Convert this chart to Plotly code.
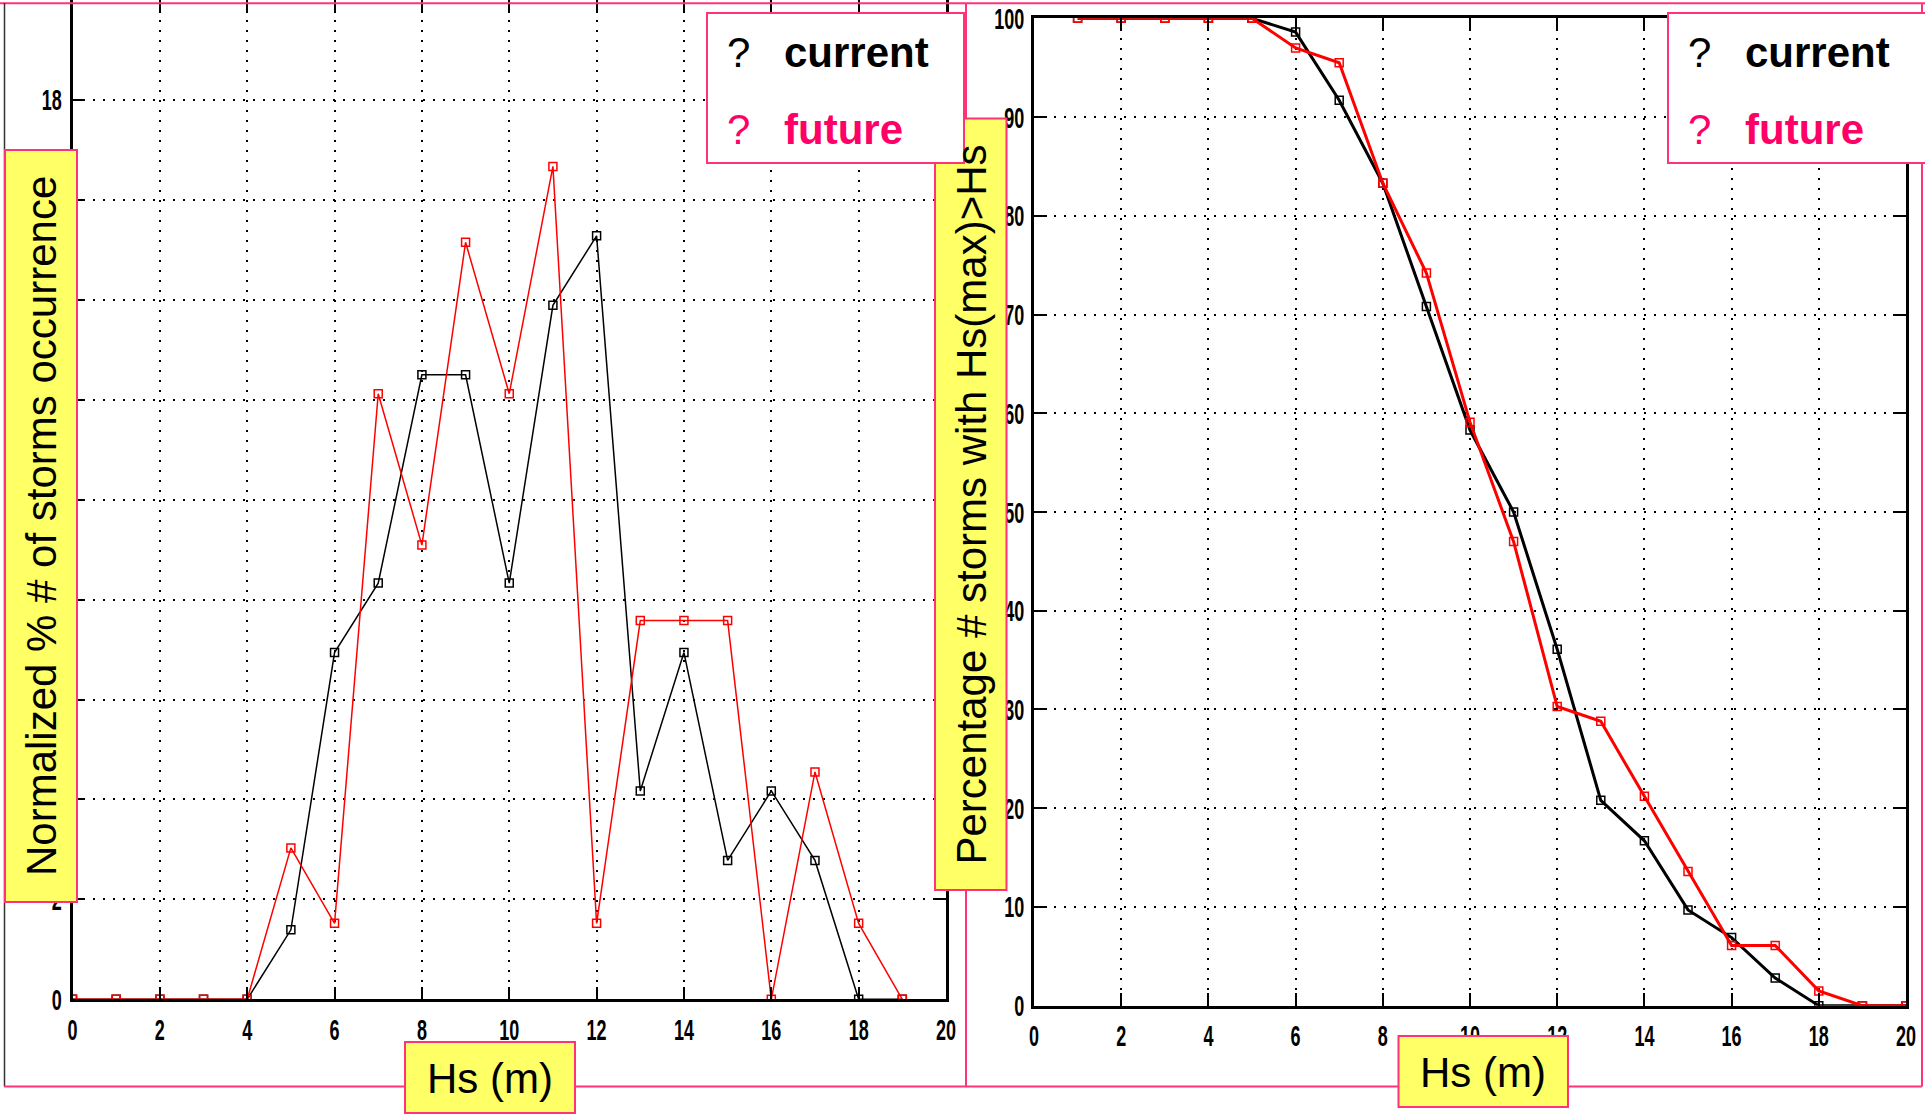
import plotly.graph_objects as go

# ---- data -------------------------------------------------------------
# Left panel: normalized occurrence (%) per Hs bin
hs_bins = list(range(0, 20))
occ_current = [0, 0, 0, 0, 0, 1.39, 6.94, 8.33, 12.50, 12.50, 8.33,
               13.89, 15.28, 4.17, 6.94, 2.78, 4.17, 2.78, 0, 0]
occ_future = [0, 0, 0, 0, 0, 3.03, 1.52, 12.12, 9.09, 15.15, 12.12,
              16.67, 1.52, 7.58, 7.58, 7.58, 0, 4.55, 1.52, 0]

# Right panel: percentage of storms whose Hs(max) exceeds Hs
hs_thresh = list(range(1, 21))
exc_current = [100, 100, 100, 100, 100, 98.6, 91.7, 83.3, 70.8, 58.3,
               50.0, 36.1, 20.8, 16.7, 9.7, 6.9, 2.8, 0, 0, 0]
exc_future = [100, 100, 100, 100, 100, 97.0, 95.5, 83.3, 74.2, 59.1,
              47.0, 30.3, 28.8, 21.2, 13.6, 6.1, 6.1, 1.5, 0, 0]

x_ticks = list(range(0, 21, 2))
y_ticks_left = list(range(0, 21, 2))
y_ticks_right = list(range(0, 101, 10))

series_names = ["current", "future"]
left_ylabel = "Normalized % # of storms occurrence"
right_ylabel = "Percentage # storms with Hs(max)>Hs"
xlabel = "Hs (m)"

# ---- styling ------------------------------------------------------------
W, H = 1925, 1117
PINK = "#FF3377"
PINK_TXT = "#FF0066"
YELLOW = "#FFFF66"
TICK_FONT = dict(family="Liberation Sans, Arial, sans-serif",
                 size=30, color="black", weight="bold")
LABEL_FONT = dict(family="Liberation Sans, Arial, sans-serif", size=42, color="black")


def px(x):
    return x / W


def py(y):
    return 1 - y / H


fig = go.Figure()

# left panel traces
fig.add_trace(go.Scatter(x=hs_bins, y=occ_current, mode="lines+markers",
                         line=dict(color="black", width=1.5),
                         marker=dict(symbol="square-open", size=8, color="black",
                                     line=dict(width=1.5)),
                         xaxis="x", yaxis="y", showlegend=False))
fig.add_trace(go.Scatter(x=hs_bins, y=occ_future, mode="lines+markers",
                         line=dict(color="red", width=1.5),
                         marker=dict(symbol="square-open", size=8, color="red",
                                     line=dict(width=1.5)),
                         xaxis="x", yaxis="y", showlegend=False))

# right panel traces
fig.add_trace(go.Scatter(x=hs_thresh, y=exc_current, mode="lines+markers",
                         line=dict(color="black", width=3),
                         marker=dict(symbol="square-open", size=8, color="black",
                                     line=dict(width=1.5)),
                         xaxis="x2", yaxis="y2", showlegend=False))
fig.add_trace(go.Scatter(x=hs_thresh, y=exc_future, mode="lines+markers",
                         line=dict(color="red", width=3),
                         marker=dict(symbol="square-open", size=8, color="red",
                                     line=dict(width=1.5)),
                         xaxis="x2", yaxis="y2", showlegend=False))

axis_common = dict(
    showline=True, linecolor="black", linewidth=2.5, mirror="ticks",
    ticks="inside", ticklen=13, tickwidth=2, tickcolor="black",
    showgrid=True, gridcolor="black", gridwidth=1.5, griddash="2px,8px",
    zeroline=False, tickfont=TICK_FONT, automargin=False,
)

fig.update_layout(
    width=W, height=H, autosize=False,
    margin=dict(l=0, r=0, t=0, b=0, pad=0, autoexpand=False),
    paper_bgcolor="white", plot_bgcolor="white",
    xaxis=dict(domain=[px(72.5), px(946)], range=[0, 20], tickvals=x_ticks,
               anchor="y", ticklabelstandoff=2, **axis_common),
    yaxis=dict(domain=[py(999.3), 1.0], range=[0, 20], tickvals=y_ticks_left,
               anchor="x", ticklabelstandoff=2, **axis_common),
    xaxis2=dict(domain=[px(1034), px(1906)], range=[0, 20], tickvals=x_ticks,
                anchor="y2", ticklabelstandoff=2, **axis_common),
    yaxis2=dict(domain=[py(1005.7), py(18.3)], range=[0, 100], tickvals=y_ticks_right,
                anchor="x2", ticklabelstandoff=1, **axis_common),
)

shapes = []


def line(x0, y0, x1, y1, color=PINK, width=2):
    shapes.append(dict(type="line", xref="paper", yref="paper",
                       x0=px(x0), y0=py(y0), x1=px(x1), y1=py(y1),
                       line=dict(color=color, width=width), layer="above"))


def box(x0, y0, x1, y1, fill, color=PINK, width=2):
    shapes.append(dict(type="rect", xref="paper", yref="paper",
                       x0=px(x0), y0=py(y0), x1=px(x1), y1=py(y1),
                       fillcolor=fill, line=dict(color=color, width=width),
                       layer="above"))


# panel frames
line(0, 3.3, W, 3.3)
line(4.5, 3, 4.5, 1086.5, color="#333333", width=1.5)
line(4, 1086.5, 1922, 1086.5)
line(966, 3, 966, 1086.5)
line(1922, 3, 1922, 1086.5)

# label boxes
box(5, 150, 77, 902, YELLOW)
box(935, 118.5, 1006.5, 890, YELLOW)
box(405, 1042, 575, 1113, YELLOW)
box(1398.5, 1036, 1568, 1107, YELLOW)

# legend boxes
box(707, 13, 964, 163, "white")
box(1668, 13, 1935, 163, "white")

annotations = []


def text(x, y, s, font, xanchor="center", yanchor="middle", angle=0):
    annotations.append(dict(xref="paper", yref="paper", x=px(x), y=py(y), text=s,
                            showarrow=False, xanchor=xanchor, yanchor=yanchor,
                            textangle=angle, font=font))


text(41, 526, left_ylabel, LABEL_FONT, angle=-90)
text(970.5, 505, right_ylabel, LABEL_FONT, angle=-90)
text(490, 1078, xlabel, LABEL_FONT)
text(1483, 1072, xlabel, LABEL_FONT)

legend_colors = ["black", PINK_TXT]
legend_rows = [52, 129]
for left in (707, 1668):
    for name, col, yy in zip(series_names, legend_colors, legend_rows):
        text(left + 31, yy, "?", dict(family="Liberation Sans, Arial, sans-serif",
                                      size=42, color=col))
        text(left + 75, yy, name, dict(family="Liberation Sans, Arial, sans-serif",
                                       size=42, color=col, weight="bold"),
             xanchor="left")

fig.update_layout(shapes=shapes, annotations=annotations)

# condensed look for the bold tick numbers: squeeze each label horizontally
condense_ticks = """
document.body.style.margin = '0';
document.body.style.overflow = 'hidden';
document.querySelectorAll('.xaxislayer-above text, .yaxislayer-above text').forEach(function (t) {
    var w = t.getComputedTextLength();
    if (w > 0) {
        t.setAttribute('textLength', (w * 0.6).toFixed(2));
        t.setAttribute('lengthAdjust', 'spacingAndGlyphs');
    }
});
"""

fig.write_html("out.html", config={"displayModeBar": False}, post_script=condense_ticks)
